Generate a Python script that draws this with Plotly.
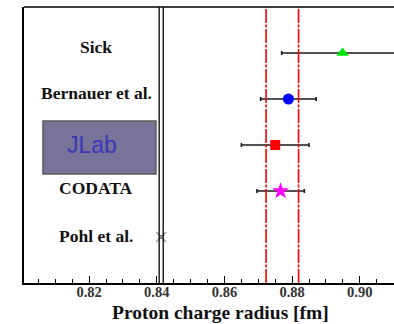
import plotly.graph_objects as go

# ---- data ----
labels = ["Sick", "Bernauer et al.", "JLab", "CODATA", "Pohl et al."]
ypos = [5, 4, 3, 2, 1]
radius = [0.8949, 0.8789, 0.8750, 0.8766, 0.8413]
radius_err = [0.0180, 0.0082, 0.0100, 0.0070, 0.0002]
red_band = [0.8723, 0.8819]
pohl_band = [0.8407, 0.8419]
tick_vals = [0.82, 0.84, 0.86, 0.88, 0.90]
tick_text = ["0.82", "0.84", "0.86", "0.88", "0.90"]

# ---- styles ----
symbols = ["triangle-up", "circle", "square", "star", "x-thin-open"]
colors = ["#00e600", "#0000ff", "#ff0000", "#ff00ff", "#a0a0a0"]
sizes = [11, 11, 10, 13, 10]
label_dy = [0.12, 0.12, 0.0, 0.06, 0.02]

W, H = 394, 324
ml, mr, mt, mb = 24, 0, 7, 41
pw = W - ml - mr
ph = H - mt - mb

serif = "serif"

fig = go.Figure()
for i in range(len(labels)):
    line_w = 1.6 if symbols[i].endswith("open") else 0
    fig.add_trace(go.Scatter(
        x=[radius[i]], y=[ypos[i]], mode="markers",
        marker=dict(symbol=symbols[i], color=colors[i], size=sizes[i],
                    line=dict(color=colors[i], width=line_w)),
        error_x=dict(type="data", array=[radius_err[i]], color="#1a1a1a",
                     thickness=1.6, width=2),
        showlegend=False, hoverinfo="skip",
    ))

shapes = []
for v in red_band:
    shapes.append(dict(type="line", xref="x", yref="paper", x0=v, x1=v, y0=0, y1=1,
                       line=dict(color="#ff0000", width=1.6, dash="14px,1.5px,3px,1.5px")))
for v in pohl_band:
    shapes.append(dict(type="line", xref="x", yref="paper", x0=v, x1=v, y0=0, y1=1,
                       line=dict(color="#000000", width=1.3)))
# top frame line
shapes.append(dict(type="line", xref="paper", yref="paper", x0=0, x1=1, y0=1, y1=1,
                   line=dict(color="#000000", width=1.6)))
# JLab box
bx0, bx1, by0, by1 = 43, 156, 121, 174
shapes.append(dict(type="rect", xref="paper", yref="paper",
                   x0=(bx0 - ml) / pw, x1=(bx1 - ml) / pw,
                   y0=(H - mb - by1) / ph, y1=(H - mb - by0) / ph,
                   fillcolor="#787399", line=dict(color="#5a5a5a", width=1.5), layer="above"))

annotations = []
for i, lab in enumerate(labels):
    if lab == "JLab":
        annotations.append(dict(text="JLab", xref="paper", yref="y",
                                x=(92 - ml) / pw, y=ypos[i] + label_dy[i], showarrow=False,
                                font=dict(family="Liberation Sans", size=23, color="#3838b8"),
                                xanchor="center", yanchor="middle"))
    else:
        annotations.append(dict(text="<b>" + lab + "</b>", xref="paper", yref="y",
                                x=(96 - ml) / pw, y=ypos[i] + label_dy[i], showarrow=False,
                                font=dict(family=serif, size=17.5, color="#111111"),
                                xanchor="center", yanchor="middle"))
annotations.append(dict(text="<b>Proton charge radius [fm]</b>", xref="paper", yref="paper",
                        x=(220 - ml) / pw, y=-(312 - (H - mb)) / ph, showarrow=False,
                        font=dict(family=serif, size=19.5, color="#111111"),
                        xanchor="center", yanchor="middle"))

x0 = 0.86 - (224.46 - ml) / 3383.75
x1 = 0.86 + (W - mr - 224.46) / 3383.75

fig.update_layout(
    width=W, height=H,
    margin=dict(l=ml, r=mr, t=mt, b=mb, pad=0),
    paper_bgcolor="white", plot_bgcolor="white",
    shapes=shapes, annotations=annotations,
    xaxis=dict(range=[x0, x1], tickvals=tick_vals,
               ticktext=["<b>" + t + "</b>" for t in tick_text],
               ticks="inside", ticklen=7, tickwidth=1.3, tickcolor="#000",
               ticklabelstandoff=-5,
               minor=dict(dtick=0.005, tick0=0.80, ticks="inside", ticklen=4,
                          tickwidth=1.3, tickcolor="#000", showgrid=False),
               showline=True, linecolor="#000", linewidth=1.8, mirror=False,
               showgrid=False, zeroline=False,
               tickfont=dict(family=serif, size=14.5, color="#333333")),
    yaxis=dict(range=[0, 6], showticklabels=False, ticks="", showgrid=False,
               zeroline=False, showline=True, linecolor="#000", linewidth=1.6, mirror=False),
)

fig.write_html("out.html")
